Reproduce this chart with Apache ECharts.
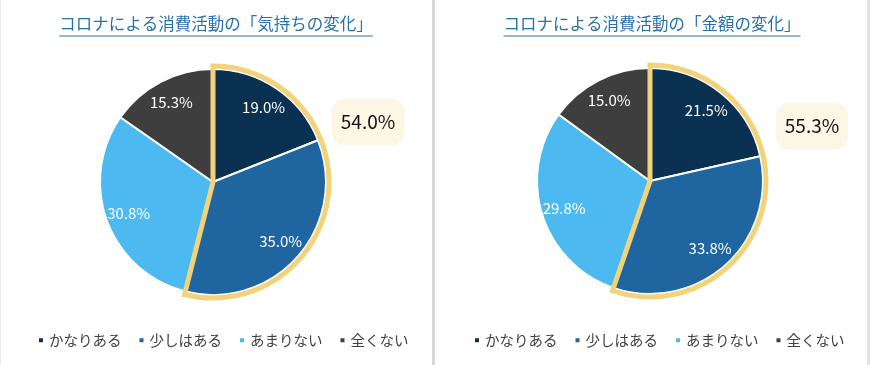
<!DOCTYPE html>
<html><head><meta charset="utf-8">
<script src="https://cdn.jsdelivr.net/npm/echarts@6/dist/echarts.min.js"></script>
<style>html,body{margin:0;padding:0;background:#fff}#c{width:870px;height:365px}</style>
</head><body><div id="c"></div>
<script>
const categories = ['かなりある', '少しはある', 'あまりない', '全くない'];
const feelingValues = [19.0, 35.0, 30.8, 15.3];
const amountValues = [21.5, 33.8, 29.8, 15.0];
const titles = ['コロナによる消費活動の「気持ちの変化」', 'コロナによる消費活動の「金額の変化」'];
const highlightCount = 2; // first two categories are outlined
const colors = ['#0b3152', '#1f65a0', '#4cb9f1', '#3e3e3e'];

const FONT = '"Noto Sans CJK JP", "Noto Sans", sans-serif';
const R = 113;
const panels = [
  {values: feelingValues, cx: 213, cy: 182, title: titles[0], tx: 216, box: [368, 122], legendLeft: 32},
  {values: amountValues, cx: 650, cy: 181, title: titles[1], tx: 652, box: [812, 126], legendLeft: 468}
];

const series = [];
const graphic = [];
const legend = [];
panels.forEach((p, pi) => {
  const data = categories.map((c, i) => ({name: c, value: p.values[i], itemStyle: {color: colors[i]}}));
  series.push({
    type: 'pie', center: [p.cx, p.cy], radius: [0, R], startAngle: 90, clockwise: true,
    animation: false, silent: true,
    itemStyle: {borderColor: '#ffffff', borderWidth: 2},
    label: {show: false}, labelLine: {show: false},
    data: data
  });
  series.push({
    type: 'pie', center: [p.cx, p.cy], radius: [62, 112], startAngle: 90, clockwise: true,
    animation: false, silent: true, legendHoverLink: false,
    itemStyle: {color: 'transparent', borderWidth: 0},
    label: {show: true, position: 'inside', color: '#ffffff', fontSize: 15, fontFamily: FONT,
      formatter: (d) => d.value.toFixed(1) + '%'},
    labelLine: {show: false},
    data: categories.map((c, i) => ({name: c, value: p.values[i], itemStyle: {color: 'transparent'}}))
  });
  const hi = p.values.slice(0, highlightCount).reduce((a, b) => a + b, 0);
  const rest = p.values.slice(highlightCount).reduce((a, b) => a + b, 0);
  series.push({
    type: 'pie', center: [p.cx, p.cy], radius: [0, R + 3], startAngle: 90, clockwise: true,
    animation: false, silent: true, legendHoverLink: false, z: 5,
    label: {show: false}, labelLine: {show: false},
    data: [
      {name: 'hi' + pi, value: hi, itemStyle: {color: 'transparent', borderColor: '#f2d27b', borderWidth: 5, borderJoin: 'miter'}},
      {name: 'rest' + pi, value: rest, itemStyle: {color: 'transparent', borderWidth: 0}}
    ]
  });
  graphic.push({
    type: 'text', x: p.box[0], y: p.box[1], z: 10,
    style: {text: hi.toFixed(1) + '%', fill: '#111111', fontSize: 19, fontFamily: FONT,
      align: 'center', verticalAlign: 'middle', backgroundColor: '#fcf6e4',
      borderRadius: 14, padding: [14, 9, 14, 9]}
  });
  graphic.push({
    type: 'text', x: p.tx, y: 24,
    style: {text: p.title, fill: '#2a70aa', fontSize: 16.5, fontFamily: FONT,
      align: 'center', verticalAlign: 'middle'}
  });
  const w = echarts.format.getTextRect ? echarts.format.getTextRect(p.title, '16.5px ' + FONT).width : 310;
  graphic.push({type: 'line', shape: {x1: p.tx - w / 2, y1: 36, x2: p.tx + w / 2, y2: 36},
    style: {stroke: '#2a70aa', lineWidth: 1.2}});
  legend.push({
    data: categories, left: p.legendLeft, top: 328, width: 420, orient: 'horizontal',
    icon: 'rect', itemWidth: 6, itemHeight: 6, itemGap: 16,
    selectedMode: false,
    textStyle: {fontSize: 14.5, color: '#404040', fontFamily: FONT}
  });
});
graphic.push({type: 'rect', shape: {x: 432, y: 0, width: 3, height: 365}, style: {fill: '#d8d8d8'}});
graphic.push({type: 'rect', shape: {x: 867, y: 0, width: 3, height: 365}, style: {fill: '#e2e2e2'}});
graphic.push({type: 'rect', shape: {x: 0, y: 0, width: 1, height: 365}, style: {fill: '#ececec'}});

const chart = echarts.init(document.getElementById('c'), null, {renderer: 'canvas'});
chart.setOption({
  backgroundColor: '#ffffff',
  animation: false,
  color: colors,
  legend: legend,
  series: series,
  graphic: graphic
});
</script></body></html>
